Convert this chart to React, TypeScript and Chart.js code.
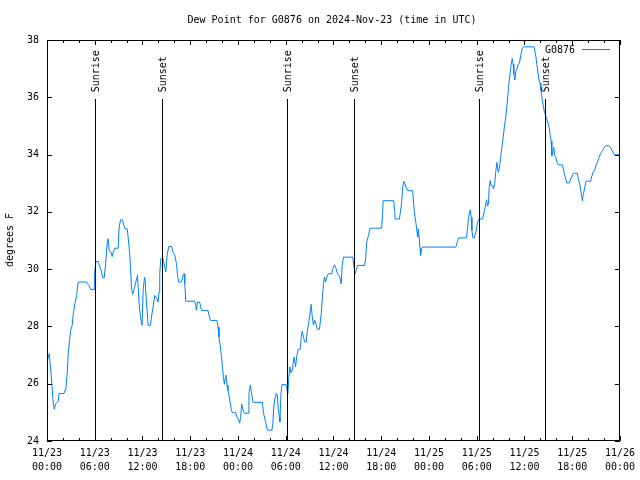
import { useEffect, useRef } from "react";
import { Chart, registerables } from "chart.js";

Chart.register(...registerables);

const chartTitle = "Dew Point for G0876 on 2024-Nov-23 (time in UTC)";
const seriesName = "G0876";
const yAxisTitle = "degrees F";

// hours since 2024-11-23 00:00 UTC
const hours = [
  0, 0.13, 0.29, 0.5, 0.63, 0.79, 0.92, 1.09, 1.42, 1.51, 2.13, 2.38, 2.55, 2.67, 2.8, 2.97, 3.17, 3.3, 3.51, 3.72,
  3.92, 4.98, 5.27, 5.48, 5.93, 5.96, 6.15, 6.44, 6.65, 6.86, 6.99, 7.19, 7.36, 7.56, 7.69, 7.81, 8.03, 8.19, 8.32, 8.53,
  8.94, 9.07, 9.24, 9.49, 9.66, 9.79, 10.08, 10.2, 10.41, 10.62, 10.75, 10.91, 11.16, 11.38, 11.45, 11.58, 11.75, 11.95, 12.08, 12.26,
  12.33, 12.51, 12.71, 13.01, 13.13, 13.33, 13.55, 13.76, 13.96, 14.09, 14.17, 14.3, 14.59, 14.8, 14.93, 15.09, 15.3, 15.64, 15.84, 16.06,
  16.27, 16.4, 16.56, 16.9, 17.1, 17.22, 17.31, 17.44, 18.57, 18.69, 18.78, 18.9, 19.19, 19.41, 20.23, 20.36, 20.53, 21.36, 21.49, 21.61,
  21.79, 21.91, 22.04, 22.16, 22.29, 22.37, 22.49, 22.62, 22.74, 22.87, 23.04, 23.17, 23.29, 23.71, 23.87, 24.09, 24.21, 24.34, 24.46, 24.62,
  24.8, 25.3, 25.38, 25.55, 25.68, 25.88, 27.06, 27.22, 27.47, 27.69, 28.26, 28.39, 28.47, 28.6, 28.81, 28.94, 29.06, 29.19, 29.27, 29.39,
  29.52, 30.02, 30.14, 30.27, 30.39, 30.52, 30.65, 30.82, 30.95, 31.07, 31.23, 31.4, 31.57, 31.82, 31.95, 32.07, 32.24, 32.36, 32.58, 32.7,
  32.9, 33.08, 33.2, 33.33, 33.49, 33.66, 33.83, 33.99, 34.24, 34.46, 34.58, 34.75, 34.87, 35.0, 35.16, 35.34, 35.79, 35.91, 36.13, 36.34,
  36.5, 36.67, 36.84, 36.97, 37.09, 37.26, 38.42, 38.55, 38.72, 38.85, 39.05, 39.89, 40.02, 40.18, 40.39, 40.61, 42.06, 42.19, 42.24, 43.57,
  43.69, 43.74, 44.28, 44.41, 44.57, 44.69, 44.82, 44.95, 45.12, 45.32, 45.95, 46.04, 46.16, 46.38, 46.5, 46.58, 46.66, 46.79, 46.88, 46.95,
  47.04, 47.2, 51.39, 51.59, 51.72, 52.72, 52.85, 52.97, 53.19, 53.31, 53.4, 53.53, 53.69, 53.9, 54.1, 54.32, 54.73, 54.94, 55.07, 55.23,
  55.36, 55.48, 55.57, 55.7, 55.82, 55.98, 56.11, 56.28, 56.41, 56.54, 56.66, 56.74, 56.91, 57.04, 57.16, 57.33, 57.49, 57.67, 57.79, 57.95,
  58.08, 58.21, 58.33, 58.46, 58.58, 58.67, 58.79, 58.92, 59.04, 59.21, 59.37, 59.55, 59.75, 59.87, 61.21, 61.43, 61.55, 61.72, 61.84, 61.97,
  62.06, 62.26, 62.38, 62.51, 62.68, 62.88, 63.1, 63.22, 63.35, 63.44, 63.56, 63.69, 63.81, 63.94, 64.1, 64.23, 64.77, 64.89, 65.02, 65.19,
  65.32, 65.61, 65.82, 66.15, 66.65, 66.77, 66.95, 67.07, 67.2, 67.27, 67.4, 67.58, 67.74, 68.33, 68.45, 68.62, 68.83, 68.96, 69.16, 69.37,
  69.58, 69.78, 70.0, 70.21, 70.62, 70.84, 71.04, 71.29, 72.0,
];

// dew point, degrees F
const dewPoint = [
  26.76, 26.9, 27.05, 26.37, 25.95, 25.29, 25.11, 25.3, 25.39, 25.66, 25.66, 25.84, 26.41, 27.07, 27.42, 27.86, 28.04, 28.45, 28.8, 29.08,
  29.55, 29.55, 29.43, 29.29, 29.29, 29.78, 30.27, 30.27, 30.07, 29.9, 29.7, 29.7, 30.19, 30.88, 31.06, 30.65, 30.6, 30.44, 30.6, 30.73,
  30.73, 31.46, 31.72, 31.72, 31.52, 31.41, 31.41, 31.11, 30.48, 29.37, 29.12, 29.26, 29.55, 29.78, 29.4, 28.79, 28.33, 28.04, 29.26, 29.72,
  29.6, 28.79, 28.04, 28.04, 28.33, 28.68, 29.08, 29.0, 28.85, 29.2, 29.84, 30.36, 30.36, 30.07, 29.9, 30.48, 30.79, 30.79, 30.59, 30.48,
  30.19, 29.78, 29.55, 29.55, 29.78, 29.84, 29.5, 28.88, 28.88, 28.73, 28.56, 28.85, 28.85, 28.56, 28.56, 28.38, 28.21, 28.21, 27.98, 27.63,
  27.28, 26.99, 26.64, 26.24, 25.98, 26.18, 26.3, 25.95, 25.77, 25.6, 25.31, 25.08, 24.99, 24.99, 24.84, 24.73, 24.62, 24.85, 25.29, 25.1,
  24.97, 24.97, 25.67, 25.95, 25.72, 25.35, 25.35, 24.96, 24.67, 24.38, 24.38, 24.62, 25.08, 25.43, 25.66, 25.6, 25.14, 24.85, 24.67, 25.6,
  25.97, 25.97, 25.85, 25.66, 26.24, 26.59, 26.38, 26.45, 26.76, 26.93, 26.59, 26.99, 27.2, 27.2, 27.63, 27.83, 27.63, 27.46, 27.46, 27.81,
  28.15, 28.5, 28.77, 28.33, 28.05, 28.21, 28.05, 27.9, 27.9, 28.44, 28.91, 29.49, 29.72, 29.55, 29.72, 29.84, 29.84, 30.01, 30.15, 30.01,
  29.84, 29.78, 29.67, 29.49, 30.13, 30.42, 30.42, 30.13, 29.84, 29.95, 30.13, 30.13, 30.3, 30.94, 31.17, 31.43, 31.43, 31.99, 32.39, 32.39,
  32.04, 31.75, 31.75, 31.99, 32.33, 32.83, 33.07, 33.0, 32.86, 32.74, 32.74, 32.45, 31.99, 31.58, 31.29, 31.12, 31.41, 31.06, 30.71, 30.48,
  30.67, 30.77, 30.77, 30.97, 31.09, 31.09, 31.44, 31.81, 32.07, 31.8, 31.35, 31.09, 31.09, 31.3, 31.64, 31.75, 31.75, 31.99, 32.15, 32.42,
  32.2, 32.3, 32.86, 33.09, 32.91, 32.91, 32.8, 33.03, 33.44, 33.73, 33.44, 33.38, 33.67, 33.96, 34.25, 34.6, 35.0, 35.35, 35.7, 36.16,
  36.57, 36.86, 37.15, 37.35, 37.15, 36.81, 36.6, 36.9, 36.98, 37.15, 37.18, 37.5, 37.73, 37.76, 37.76, 37.44, 37.15, 36.81, 36.57, 36.5,
  36.28, 35.87, 35.7, 35.47, 35.35, 35.18, 34.95, 34.7, 34.48, 33.96, 34.1, 34.25, 33.96, 33.9, 33.73, 33.64, 33.64, 33.5, 33.32, 33.15,
  33.01, 33.01, 33.15, 33.35, 33.35, 33.15, 32.97, 32.74, 32.53, 32.39, 32.6, 32.86, 33.07, 33.07, 33.23, 33.38, 33.46, 33.6, 33.73, 33.9,
  34.04, 34.13, 34.23, 34.31, 34.31, 34.23, 34.13, 33.99, 33.99,
];

const sunEventHours = [6.06, 14.46, 30.14, 38.55, 54.23, 62.56];
const sunEventLabels = ["Sunrise", "Sunset", "Sunrise", "Sunset", "Sunrise", "Sunset"];

const xTickDates = ["11/23", "11/23", "11/23", "11/23", "11/24", "11/24", "11/24", "11/24", "11/25", "11/25", "11/25", "11/25", "11/26"];
const xTickTimes = ["00:00", "06:00", "12:00", "18:00", "00:00", "06:00", "12:00", "18:00", "00:00", "06:00", "12:00", "18:00", "00:00"];

const yMin = 24;
const yMax = 38;
const yStep = 2;
const xMin = 0;
const xMax = 72;
const xMajorStep = 6;
const xMinorStep = 2;

const FONT = "DejaVu Sans Mono";
const LINE_COLOR = "#0080ff";

const decorPlugin = {
  id: "decor",
  afterDraw(chart: any) {
    const ctx = chart.ctx;
    const { left, right, top, bottom } = chart.chartArea;
    const xs = chart.scales.x;
    const ys = chart.scales.y;
    ctx.save();
    ctx.strokeStyle = "#000";
    ctx.lineWidth = 1;

    // border
    ctx.beginPath();
    ctx.rect(Math.round(left) + 0.5, Math.round(top) + 0.5, Math.round(right - left) - 1, Math.round(bottom - top) - 1);
    ctx.stroke();

    // x ticks (inside, bottom and top)
    ctx.beginPath();
    for (let v = xMin; v <= xMax; v += xMinorStep) {
      const px = Math.round(xs.getPixelForValue(v)) + 0.5;
      const len = v % xMajorStep === 0 ? 5 : 3;
      ctx.moveTo(px, bottom);
      ctx.lineTo(px, bottom - len);
      ctx.moveTo(px, top);
      ctx.lineTo(px, top + len);
    }
    // y ticks (inside, left and right)
    for (let v = yMin; v <= yMax; v += yStep) {
      const py = Math.round(ys.getPixelForValue(v)) + 0.5;
      ctx.moveTo(left, py);
      ctx.lineTo(left + 5, py);
      ctx.moveTo(right, py);
      ctx.lineTo(right - 5, py);
    }
    ctx.stroke();

    // sunrise / sunset markers
    const markerTop = top + (bottom - top) * 0.148;
    ctx.font = `10px "${FONT}"`;
    ctx.fillStyle = "#000";
    sunEventHours.forEach((h, i) => {
      const px = Math.round(xs.getPixelForValue(h)) + 0.5;
      ctx.beginPath();
      ctx.moveTo(px, Math.round(markerTop));
      ctx.lineTo(px, bottom);
      ctx.stroke();
      ctx.save();
      ctx.translate(px + 1, markerTop - 7);
      ctx.rotate(-Math.PI / 2);
      ctx.textAlign = "left";
      ctx.textBaseline = "middle";
      ctx.fillText(sunEventLabels[i], 0, 0);
      ctx.restore();
    });

    // title
    ctx.textAlign = "center";
    ctx.textBaseline = "middle";
    ctx.fillText(chartTitle, 332, 20);

    // legend
    ctx.textAlign = "right";
    ctx.fillText(seriesName, 575, 50);
    ctx.strokeStyle = LINE_COLOR;
    ctx.beginPath();
    ctx.moveTo(582, 49.5);
    ctx.lineTo(610, 49.5);
    ctx.stroke();

    // y axis title
    ctx.save();
    ctx.translate(10, 240);
    ctx.rotate(-Math.PI / 2);
    ctx.textAlign = "center";
    ctx.textBaseline = "middle";
    ctx.fillText(yAxisTitle, 0, 0);
    ctx.restore();

    ctx.restore();
  },
};

export default function App() {
  const canvasRef = useRef<HTMLCanvasElement | null>(null);

  useEffect(() => {
    if (!canvasRef.current) return;
    const points = hours.map((h, i) => ({ x: h, y: dewPoint[i] }));
    const chart = new Chart(canvasRef.current, {
      type: "line",
      data: {
        datasets: [
          {
            label: seriesName,
            data: points,
            borderColor: LINE_COLOR,
            backgroundColor: LINE_COLOR,
            borderWidth: 1,
            pointRadius: 0,
            tension: 0,
            fill: false,
          },
        ],
      },
      options: {
        animation: false,
        responsive: false,
        maintainAspectRatio: false,
        devicePixelRatio: 1,
        layout: { padding: { left: 0, right: 19, top: 40, bottom: 0 } },
        plugins: {
          legend: { display: false },
          title: { display: false },
          tooltip: { enabled: false },
        },
        scales: {
          x: {
            type: "linear",
            min: xMin,
            max: xMax,
            grid: { display: false, drawTicks: false },
            border: { display: false },
            afterFit: (scale: any) => {
              scale.height = 39;
            },
            ticks: {
              stepSize: xMajorStep,
              autoSkip: false,
              maxRotation: 0,
              minRotation: 0,
              padding: 5,
              color: "#000",
              font: { family: FONT, size: 10, lineHeight: 1.4 },
              callback: (value: any) => {
                const idx = Math.round(Number(value) / xMajorStep);
                return [xTickDates[idx], xTickTimes[idx]];
              },
            },
          },
          y: {
            type: "linear",
            min: yMin,
            max: yMax,
            grid: { display: false, drawTicks: false },
            border: { display: false },
            afterFit: (scale: any) => {
              scale.width = 47;
            },
            ticks: {
              stepSize: yStep,
              padding: 8,
              color: "#000",
              font: { family: FONT, size: 10 },
            },
          },
        },
      },
      plugins: [decorPlugin],
    });
    return () => chart.destroy();
  }, []);

  return (
    <div style={{ position: "fixed", left: 0, top: 0, width: 640, height: 480, background: "#fff" }}>
      <canvas ref={canvasRef} width={640} height={480} style={{ display: "block" }} />
    </div>
  );
}
